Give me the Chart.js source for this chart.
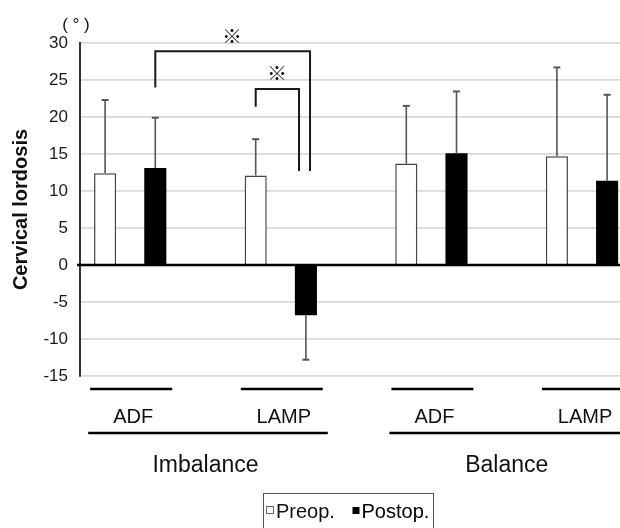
<!DOCTYPE html>
<html><head><meta charset="utf-8">
<script src="https://cdn.jsdelivr.net/npm/chart.js@4/dist/chart.umd.min.js"></script>
<style>html,body{margin:0;padding:0;background:#fff;overflow:hidden}#wrap{width:620px;height:528px;position:relative}</style>
</head><body><div id="wrap"><canvas id="c"></canvas></div>
<script>
// ---- data ----
const groups = ['Imbalance', 'Balance'];
const categories = ['ADF', 'LAMP', 'ADF', 'LAMP'];
const categoryGroup = [0, 0, 1, 1];
const seriesNames = ['Preop.', 'Postop.'];
const preop = [12.4, 12.1, 13.7, 14.7];
const preopSD = [9.9, 4.9, 7.8, 12.0];
const postop = [13.1, -6.8, 15.1, 11.4];
const postopSD = [6.8, 6.0, 8.35, 11.6];
const yMin = -15, yMax = 30, yStep = 5;
const yTitle = 'Cervical lordosis';
const yUnit = '( ° )';
const sigMark = '※';
// significance brackets (x in category units, y in degrees)
const brackets = [
  { x1: 1 + 1/6, x2: 2.194, top: 28.9, leftEnd: 24.0, rightEnd: 12.7, markX: 1.676, markY: 30.9 },
  { x1: 2 - 1/6, x2: 2.121, top: 23.8, leftEnd: 21.4, rightEnd: 12.7, markX: 1.975, markY: 25.9 }
];

const FONT = "'Liberation Sans', Arial, sans-serif";

const sdByDataset = [preopSD, postopSD];

const overlay = {
  id: 'overlay',
  afterDatasetsDraw(chart) {
    const ctx = chart.ctx;
    const xs = chart.scales.x, ys = chart.scales.y;
    const area = chart.chartArea;
    ctx.save();
    // zero line
    ctx.strokeStyle = '#000';
    ctx.lineWidth = 2.5;
    ctx.beginPath();
    ctx.moveTo(area.left - 3, ys.getPixelForValue(0));
    ctx.lineTo(area.right, ys.getPixelForValue(0));
    ctx.stroke();
    // error bars
    ctx.strokeStyle = '#555';
    chart.data.datasets.forEach((ds, di) => {
      const meta = chart.getDatasetMeta(di);
      meta.data.forEach((el, i) => {
        const v = ds.data[i].y;
        const sd = sdByDataset[di][i];
        const end = v >= 0 ? v + sd : v - sd;
        const y0 = ys.getPixelForValue(v), y1 = ys.getPixelForValue(end);
        ctx.lineWidth = 1.6;
        ctx.beginPath();
        ctx.moveTo(el.x, y0); ctx.lineTo(el.x, y1); ctx.stroke();
        ctx.lineWidth = 2;
        ctx.beginPath();
        ctx.moveTo(el.x - 3.5, y1); ctx.lineTo(el.x + 3.5, y1); ctx.stroke();
      });
    });
    // brackets
    ctx.strokeStyle = '#1a1a1a';
    ctx.lineWidth = 2;
    ctx.fillStyle = '#111';
    ctx.font = "20px 'Noto Sans CJK JP', sans-serif";
    ctx.textAlign = 'center';
    ctx.textBaseline = 'middle';
    brackets.forEach(b => {
      const xa = xs.getPixelForValue(b.x1), xb = xs.getPixelForValue(b.x2);
      ctx.beginPath();
      ctx.moveTo(xa, ys.getPixelForValue(b.leftEnd));
      ctx.lineTo(xa, ys.getPixelForValue(b.top));
      ctx.lineTo(xb, ys.getPixelForValue(b.top));
      ctx.lineTo(xb, ys.getPixelForValue(b.rightEnd));
      ctx.stroke();
      ctx.fillText(sigMark, xs.getPixelForValue(b.markX), ys.getPixelForValue(b.markY));
    });
    ctx.restore();
  },
  afterDraw(chart) {
    const ctx = chart.ctx;
    const xs = chart.scales.x;
    ctx.save();
    // unit label
    ctx.fillStyle = '#111';
    ctx.font = '17px ' + FONT;
    ctx.textAlign = 'center';
    ctx.textBaseline = 'middle';
    ctx.fillText(yUnit, 76, 25);
    // category labels + underlines
    ctx.strokeStyle = '#000';
    ctx.lineWidth = 2.5;
    ctx.fillStyle = '#111';
    ctx.textBaseline = 'alphabetic';
    categories.forEach((c, i) => {
      const px = xs.getPixelForValue(i + 1);
      ctx.beginPath();
      ctx.moveTo(px - 40, 389); ctx.lineTo(px + 42, 389); ctx.stroke();
      ctx.font = '20px ' + FONT;
      ctx.fillText(c, px + 3, 422.5);
    });
    // group labels + lines
    groups.forEach((g, gi) => {
      const idx = categoryGroup.map((v, i) => v === gi ? i : -1).filter(i => i >= 0);
      const p0 = xs.getPixelForValue(idx[0] + 1), p1 = xs.getPixelForValue(idx[idx.length - 1] + 1);
      ctx.beginPath();
      ctx.moveTo(p0 - 42, 433); ctx.lineTo(p1 + 47, 433); ctx.stroke();
      ctx.font = '23px ' + FONT;
      ctx.fillText(g, (p0 + p1) / 2, 471.5);
    });
    // legend
    ctx.strokeStyle = '#555';
    ctx.lineWidth = 1;
    ctx.strokeRect(263.5, 493.5, 170, 45);
    ctx.textAlign = 'left';
    ctx.font = '20px ' + FONT;
    ctx.strokeStyle = '#666';
    ctx.strokeRect(266.5, 506.5, 7, 7);
    ctx.fillStyle = '#111';
    ctx.fillText(seriesNames[0], 276, 518);
    ctx.fillStyle = '#000';
    ctx.fillRect(352.5, 507, 7, 7);
    ctx.fillText(seriesNames[1], 361.5, 518);
    ctx.restore();
  }
};

const toPts = arr => arr.map((v, i) => ({ x: i + 1, y: v }));

new Chart(document.getElementById('c'), {
  type: 'bar',
  data: {
    datasets: [
      { label: seriesNames[0], data: toPts(preop), backgroundColor: '#fff', borderColor: '#444', borderWidth: 1.5 },
      { label: seriesNames[1], data: toPts(postop), backgroundColor: '#000', borderColor: '#000', borderWidth: 0 }
    ]
  },
  options: {
    responsive: true,
    maintainAspectRatio: false,
    animation: false,
    categoryPercentage: 100.4 / 150.6,
    barPercentage: 0.44,
    layout: { padding: { top: 43, bottom: 152, left: 0, right: 0 } },
    plugins: { legend: { display: false }, tooltip: { enabled: false } },
    scales: {
      x: {
        type: 'linear',
        display: false,
        offset: false,
        min: 1 - 1/3,
        max: 1 - 1/3 + 540 / 150.6,
        afterBuildTicks: s => { s.ticks = categories.map((c, i) => ({ value: i + 1 })); },
        grid: { display: false, offset: false }
      },
      y: {
        min: yMin, max: yMax,
        afterFit: s => { s.width = 80; },
        ticks: { stepSize: yStep, padding: 12, color: '#1a1a1a', font: { family: FONT, size: 17 } },
        grid: {
          drawTicks: false,
          color: c => c.tick && c.tick.value === 0 ? 'rgba(0,0,0,0)' : '#d9d9d9',
          lineWidth: 1.8
        },
        border: { display: true, color: '#333', width: 2 },
        title: { display: true, text: yTitle, color: '#111', padding: { top: 9, bottom: 0 }, font: { family: FONT, size: 20, weight: 'bold' } }
      }
    }
  },
  plugins: [overlay]
});
</script></body></html>
